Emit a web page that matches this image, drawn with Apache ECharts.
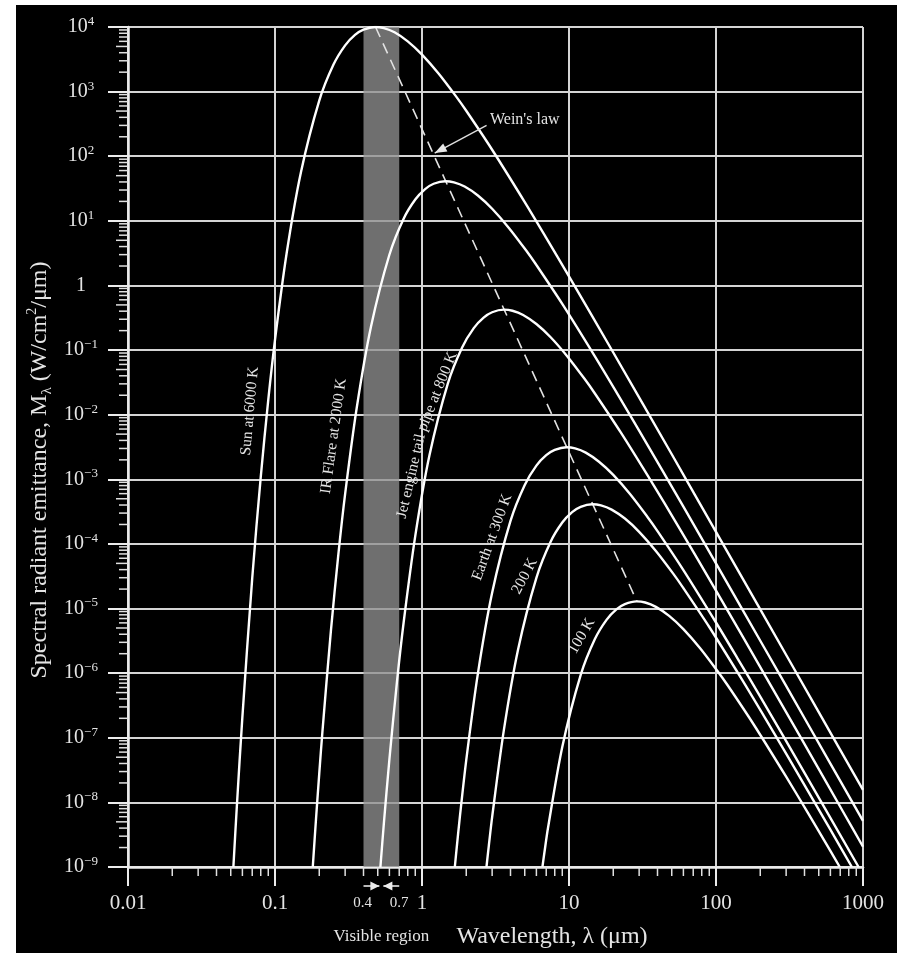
<!DOCTYPE html>
<html>
<head>
<meta charset="utf-8">
<script src="https://cdn.jsdelivr.net/npm/echarts@6/dist/echarts.min.js"></script>
<style>
html,body{margin:0;padding:0;background:#fff;}
#c{width:897px;height:953px;}
</style>
</head>
<body>
<div id="c"></div>
<script>
// ---------------- data ----------------
const xTickLabels = ['0.01', '0.1', '1', '10', '100', '1000'];
const visibleBand = [0.4, 0.7];
const visibleLabels = ['0.4', '0.7'];

// wavelength (um), spectral radiant emittance (W/cm2/um)
const sun6000 = [
  [0.0521, 1.0e-9], [0.055, 8.63e-9], [0.06, 2.11e-7], [0.07, 2.95e-5], [0.08, 1.09e-3],
  [0.09, 1.70e-2], [0.1, 0.144], [0.12, 3.15], [0.15, 56.1], [0.2, 726], [0.25, 2618],
  [0.3, 5200], [0.35, 7551], [0.4, 9120], [0.48, 10000], [0.55, 9616], [0.65, 8279],
  [0.8, 5998], [1, 3741], [1.3, 1892], [1.7, 851], [2, 505], [3, 126], [5, 19.5],
  [7, 5.45], [10, 1.38], [20, 0.0918], [50, 2.44e-3], [100, 1.54e-4], [200, 9.7e-6],
  [500, 2.49e-7], [1000, 1.56e-8]
];
const flare2000 = [
  [0.1807, 1.0e-9], [0.19, 5.43e-9], [0.2, 2.79e-8], [0.21, 1.21e-7], [0.24, 4.50e-6],
  [0.27, 7.00e-5], [0.3, 5.93e-4], [0.36, 1.29e-2], [0.45, 0.231], [0.6, 2.99], [0.75, 10.8],
  [0.9, 21.4], [1.05, 31.0], [1.2, 37.5], [1.44, 41.1], [1.65, 39.5], [1.95, 34.0],
  [2.4, 24.7], [3, 15.4], [3.9, 7.78], [5.1, 3.50], [6, 2.07], [9, 0.518], [15, 0.0800],
  [21, 0.0224], [30, 5.68e-3], [60, 3.78e-4], [150, 1.00e-5], [300, 6.34e-7],
  [600, 3.99e-8], [1000, 5.19e-9]
];
const jet800 = [
  [0.5213, 1.0e-9], [0.55, 4.67e-9], [0.6, 4.61e-8], [0.675, 7.18e-7], [0.75, 6.08e-6],
  [0.9, 1.33e-4], [1.125, 2.37e-3], [1.5, 3.06e-2], [1.875, 0.110], [2.25, 0.219],
  [2.625, 0.318], [3, 0.385], [3.6, 0.422], [4.125, 0.406], [4.875, 0.349], [6, 0.253],
  [7.5, 0.158], [9.75, 0.0798], [12.75, 0.0359], [15, 0.0213], [22.5, 5.31e-3],
  [37.5, 8.20e-4], [52.5, 2.30e-4], [75, 5.82e-5], [150, 3.87e-6], [375, 1.03e-7],
  [750, 6.50e-9], [1000, 2.06e-9]
];
const earth300 = [
  [1.672, 1.0e-9], [1.72, 1.93e-9], [1.8, 5.32e-9], [2, 4.51e-8], [2.4, 9.84e-7],
  [3, 1.75e-5], [4, 2.27e-4], [5, 8.18e-4], [6, 1.63e-3], [7, 2.36e-3], [8, 2.85e-3],
  [9.6, 3.13e-3], [11, 3.01e-3], [13, 2.59e-3], [16, 1.87e-3], [20, 1.17e-3],
  [26, 5.92e-4], [34, 2.66e-4], [40, 1.58e-4], [60, 3.94e-5], [100, 6.08e-6],
  [140, 1.70e-6], [200, 4.32e-7], [400, 2.87e-8], [933, 1.0e-9]
];
const body200 = [
  [2.745, 1.0e-9], [2.85, 2.17e-9], [3, 5.93e-9], [3.6, 1.29e-7], [4.5, 2.31e-6],
  [6, 2.99e-5], [7.5, 1.08e-4], [9, 2.14e-4], [10.5, 3.10e-4], [12, 3.75e-4],
  [14.4, 4.11e-4], [16.5, 3.95e-4], [19.5, 3.40e-4], [24, 2.47e-4], [30, 1.54e-4],
  [39, 7.78e-5], [51, 3.50e-5], [60, 2.07e-5], [90, 5.18e-6], [150, 8.00e-7],
  [210, 2.24e-7], [300, 5.68e-8], [600, 3.78e-9], [840, 1.0e-9]
];
const body100 = [
  [6.594, 1.0e-9], [6.8, 1.66e-9], [7.2, 4.05e-9], [9, 7.21e-8], [12, 9.33e-7],
  [15, 3.37e-6], [18, 6.68e-6], [21, 9.70e-6], [24, 1.17e-5], [28.8, 1.29e-5],
  [33, 1.24e-5], [39, 1.06e-5], [48, 7.71e-6], [60, 4.81e-6], [78, 2.43e-6],
  [102, 1.09e-6], [120, 6.49e-7], [180, 1.62e-7], [300, 2.50e-8], [420, 7.00e-9],
  [600, 1.77e-9], [695, 1.0e-9]
];
const wienPeaks = [[0.483, 1.0e4], [28.98, 1.29e-5]];

// ---------------- chart ----------------
const FONT = "'Liberation Serif','Times New Roman',serif";
const TXT = '#e4e4e4';
const chart = echarts.init(document.getElementById('c'), null, {renderer: 'canvas'});

const curveSets = [sun6000, flare2000, jet800, earth300, body200, body100];
const series = curveSets.map(d => ({
  type: 'line', data: d, symbol: 'none', showSymbol: false,
  smooth: 0.3, silent: true, z: 4, animation: false,
  lineStyle: {color: '#ffffff', width: 2.4}
}));
series.push({
  type: 'line', data: wienPeaks, symbol: 'none', silent: true, z: 3, animation: false,
  lineStyle: {color: '#e2e2e2', width: 1.6, type: [11, 7]}
});
series.push({
  type: 'line', data: [], symbol: 'none', silent: true, z: 1, animation: false,
  markArea: {
    silent: true,
    itemStyle: {color: 'rgba(144,144,144,0.77)'},
    data: [[{xAxis: visibleBand[0]}, {xAxis: visibleBand[1]}]]
  }
});

function yLabel(v) {
  const e = Math.round(Math.log10(v));
  if (e === 0) return '{b|1}';
  return '{b|10}{s|' + (e < 0 ? '\u2212' + (-e) : String(e)) + '}';
}

chart.setOption({
  backgroundColor: '#000',
  animation: false,
  grid: {left: 128, right: 34, top: 27, bottom: 86, containLabel: false},
  xAxis: {
    type: 'log', logBase: 10, min: 0.01, max: 1000, splitNumber: 5,
    axisLine: {show: true, lineStyle: {color: '#ececec', width: 2.5}},
    axisTick: {show: true, inside: false, length: 19, lineStyle: {color: '#ececec', width: 2}},
    axisLabel: {
      color: TXT, fontFamily: FONT, fontSize: 21, margin: 26,
      formatter: v => xTickLabels[Math.round(Math.log10(v)) + 2]
    },
    splitLine: {show: true, lineStyle: {color: '#d4d4d4', width: 2}},
    minorTick: {show: false}
  },
  yAxis: {
    type: 'log', logBase: 10, min: 1e-9, max: 1e4, splitNumber: 13, interval: 1,
    axisLine: {show: true, lineStyle: {color: '#ececec', width: 2.5}},
    axisTick: {show: true, inside: false, length: 20, lineStyle: {color: '#ececec', width: 2}},
    axisLabel: {
      color: TXT, fontFamily: FONT, align: 'center', margin: 47,
      formatter: yLabel,
      rich: {
        b: {fontFamily: FONT, fontSize: 20, color: TXT, lineHeight: 24},
        s: {fontFamily: FONT, fontSize: 13, color: TXT, verticalAlign: 'top', lineHeight: 13}
      }
    },
    splitLine: {show: true, lineStyle: {color: '#d4d4d4', width: 2}},
    minorTick: {show: false}
  },
  series: series
});

// ---------------- decorations ----------------
function P(x, y) { return chart.convertToPixel({gridIndex: 0}, [x, y]); }
const measureCtx = document.createElement('canvas').getContext('2d');
function textW(t, size) { measureCtx.font = size + 'px ' + FONT; return measureCtx.measureText(t).width; }

const g = [];
// white outer margins of the picture
g.push({type: 'rect', silent: true, z: 100, shape: {x: 0, y: 0, width: 897, height: 5}, style: {fill: '#fff'}});
g.push({type: 'rect', silent: true, z: 100, shape: {x: 0, y: 0, width: 16, height: 953}, style: {fill: '#fff'}});

// minor ticks (2..9 in every decade)
const xAxisY = P(1, 1e-9)[1];
const yAxisX = P(0.01, 1)[0];
for (let e = -2; e < 3; e++) {
  for (let k = 2; k <= 9; k++) {
    const x = P(k * Math.pow(10, e), 1)[0];
    g.push({type: 'line', silent: true, z: 5, shape: {x1: x, y1: xAxisY, x2: x, y2: xAxisY + 9},
      style: {stroke: '#e0e0e0', lineWidth: 1.5}});
  }
}
for (let e = -9; e < 4; e++) {
  for (let k = 2; k <= 9; k++) {
    const y = P(1, k * Math.pow(10, e))[1];
    const len = (k === 5) ? 12 : 9;
    g.push({type: 'line', silent: true, z: 5, shape: {x1: yAxisX - len, y1: y, x2: yAxisX, y2: y},
      style: {stroke: '#e0e0e0', lineWidth: 1.5}});
  }
}

// rotated curve labels
const LBL = 15.5;
function rotText(text, at, angleDeg, size) {
  const p = P(at[0], at[1]);
  return {type: 'text', silent: true, z: 20, x: p[0], y: p[1], rotation: angleDeg * Math.PI / 180,
    style: {text: text, fill: TXT, font: size + 'px ' + FONT, align: 'center', verticalAlign: 'middle'}};
}
const curveLabelSpecs = [
  {text: 'Sun at 6000 K', at: [0.0675, 1.14e-2], angle: 85},
  {text: 'IR Flare at 2000 K', at: [0.251, 4.67e-3], angle: 82},
  {text: 'Earth at 300 K', at: [3.0, 1.27e-4], angle: 70},
  {text: '200 K', at: [5.0, 3.17e-5], angle: 62},
  {text: '100 K', at: [12.2, 3.74e-6], angle: 60}
];
curveLabelSpecs.forEach(s => g.push(rotText(s.text, s.at, s.angle, LBL)));

// jet engine label follows its curve in two pieces
(function () {
  const t1 = 'Jet engine tail ', t2 = 'pipe at 800 K';
  const a1 = 77 * Math.PI / 180, a2 = 68 * Math.PI / 180;
  const c1 = P(0.85, 1.2e-3);
  const w1 = textW(t1, LBL), w2 = textW(t2, LBL);
  const end1 = [c1[0] + Math.cos(a1) * w1 / 2, c1[1] - Math.sin(a1) * w1 / 2];
  const c2 = [end1[0] + Math.cos(a2) * w2 / 2, end1[1] - Math.sin(a2) * w2 / 2];
  [[t1, c1, a1], [t2, c2, a2]].forEach(([t, c, a]) => g.push({type: 'text', silent: true, z: 20,
    x: c[0], y: c[1], rotation: a,
    style: {text: t, fill: TXT, font: LBL + 'px ' + FONT, align: 'center', verticalAlign: 'middle'}}));
})();

function arrowHead(tip, from, len, half, fill) {
  const dx = tip[0] - from[0], dy = tip[1] - from[1];
  const d = Math.hypot(dx, dy), ux = dx / d, uy = dy / d;
  const bx = tip[0] - ux * len, by = tip[1] - uy * len;
  return {type: 'polygon', silent: true, z: 21,
    shape: {points: [tip, [bx - uy * half, by + ux * half], [bx + uy * half, by - ux * half]]},
    style: {fill: fill}};
}

// Wein's law annotation
(function () {
  const tp = P(5.0, 363);
  g.push({type: 'text', silent: true, z: 20, x: tp[0], y: tp[1],
    style: {text: "Wein's law", fill: TXT, font: '16px ' + FONT, align: 'center', verticalAlign: 'middle'}});
  const from = P(2.75, 300), tip = P(1.22, 112);
  g.push({type: 'line', silent: true, z: 20, shape: {x1: from[0], y1: from[1], x2: tip[0], y2: tip[1]},
    style: {stroke: '#e0e0e0', lineWidth: 1.4}});
  g.push(arrowHead(tip, from, 12, 4.5, '#e8e8e8'));
})();

// visible region marks below the axis
(function () {
  const x04 = P(visibleBand[0], 1)[0], x07 = P(visibleBand[1], 1)[0];
  const mid = (x04 + x07) / 2, ay = xAxisY + 19;
  g.push({type: 'line', silent: true, z: 20, shape: {x1: x04, y1: ay, x2: mid - 2, y2: ay}, style: {stroke: '#e8e8e8', lineWidth: 1.6}});
  g.push({type: 'line', silent: true, z: 20, shape: {x1: x07, y1: ay, x2: mid + 2, y2: ay}, style: {stroke: '#e8e8e8', lineWidth: 1.6}});
  g.push(arrowHead([mid - 2, ay], [x04, ay], 9, 4.5, '#ececec'));
  g.push(arrowHead([mid + 2, ay], [x07, ay], 9, 4.5, '#ececec'));
  g.push({type: 'text', silent: true, z: 20, x: x04 - 1, y: ay + 17,
    style: {text: visibleLabels[0], fill: TXT, font: '15px ' + FONT, align: 'center', verticalAlign: 'middle'}});
  g.push({type: 'text', silent: true, z: 20, x: x07, y: ay + 17,
    style: {text: visibleLabels[1], fill: TXT, font: '15px ' + FONT, align: 'center', verticalAlign: 'middle'}});
  g.push({type: 'text', silent: true, z: 20, x: mid, y: 937,
    style: {text: 'Visible region', fill: TXT, font: '17px ' + FONT, align: 'center', verticalAlign: 'middle'}});
})();

// axis titles
g.push({type: 'text', silent: true, z: 20, x: 552, y: 937,
  style: {text: 'Wavelength, \u03bb (\u03bcm)', fill: TXT, font: '24px ' + FONT, align: 'center', verticalAlign: 'middle'}});
g.push({type: 'text', silent: true, z: 20, x: 40, y: 470, rotation: Math.PI / 2,
  style: {
    text: '{t|Spectral radiant emittance, M}{sub|\u03bb}{t| (W/cm}{sup|2}{t|/\u03bcm)}',
    fill: TXT, align: 'center', verticalAlign: 'middle',
    rich: {
      t: {fontFamily: FONT, fontSize: 24, fill: TXT, lineHeight: 30},
      sub: {fontFamily: FONT, fontSize: 15, fill: TXT, verticalAlign: 'bottom', lineHeight: 15},
      sup: {fontFamily: FONT, fontSize: 14, fill: TXT, verticalAlign: 'top', lineHeight: 15}
    }
  }});

chart.setOption({graphic: g});
</script>
</body>
</html>
